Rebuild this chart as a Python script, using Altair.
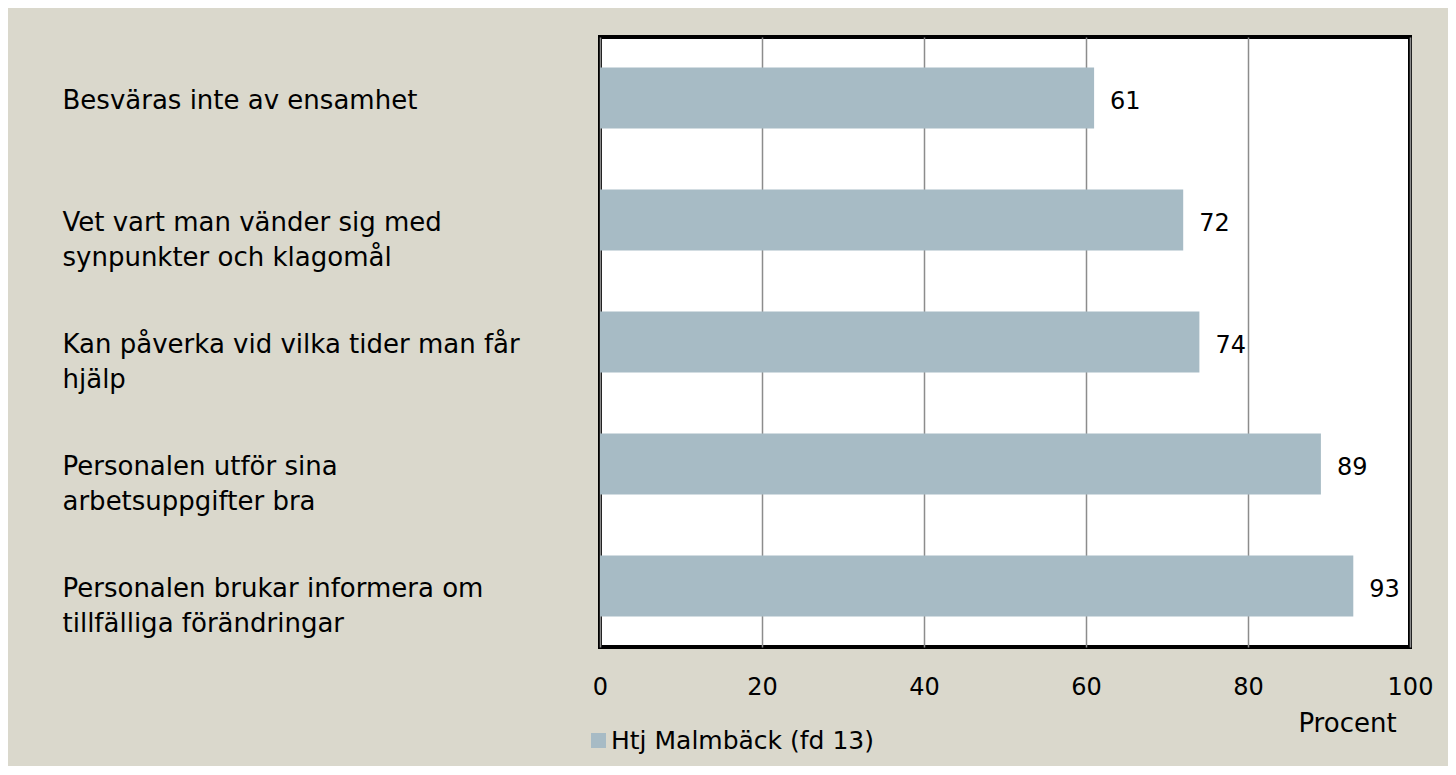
import altair as alt
import pandas as pd

categories = [
    "Besväras inte av ensamhet",
    "Vet vart man vänder sig med|synpunkter och klagomål",
    "Kan påverka vid vilka tider man får|hjälp",
    "Personalen utför sina|arbetsuppgifter bra",
    "Personalen brukar informera om|tillfälliga förändringar",
]
values = [61, 72, 74, 89, 93]
series = "Htj Malmbäck (fd 13)"
x_ticks = [0, 20, 40, 60, 80, 100]

df = pd.DataFrame({"cat": categories, "val": values, "series": [series] * len(values)})

FONT = "DejaVu Sans"
BG = "#DAD8CC"
BAR = "#A7BBC5"

y_enc = alt.Y(
    "cat:N",
    sort=categories,
    scale=alt.Scale(paddingInner=0.5, paddingOuter=0.25),
    axis=alt.Axis(
        title=None,
        labelExpr="split(datum.label, '|')",
        labelAlign="left",
        labelBaseline="alphabetic",
        labelOffset=11,
        labelPadding=538,
        labelLimit=600,
        labelFont=FONT,
        labelFontSize=26,
        labelColor="black",
        labelLineHeight=35,
        ticks=False,
        domain=False,
    ),
)

x_enc = alt.X(
    "val:Q",
    scale=alt.Scale(domain=[0, 100], nice=False),
    axis=alt.Axis(
        values=x_ticks,
        title="Procent",
        titleFont=FONT,
        titleFontSize=26,
        titleFontWeight="normal",
        titleColor="black",
        titleAnchor="start",
        titleAlign="center",
        titleBaseline="middle",
        titleX=747,
        titleY=76,
        labelFont=FONT,
        labelFontSize=24,
        labelColor="black",
        labelPadding=28,
        labelFlush=False,
        ticks=False,
        domain=False,
        grid=True,
        gridColor="#8c8c8c",
        gridWidth=1.5,
    ),
)

bars = alt.Chart(df).mark_bar(opacity=1).encode(
    x=x_enc,
    y=y_enc,
    color=alt.Color(
        "series:N",
        scale=alt.Scale(domain=[series], range=[BAR]),
        legend=alt.Legend(
            title=None,
            orient="none",
            legendX=-14,
            legendY=691,
            symbolType="square",
            symbolSize=225,
            symbolStrokeWidth=0,
            labelFont=FONT,
            labelFontSize=25,
            labelColor="black",
            labelOffset=0,
            labelLimit=500,
        ),
    ),
)

labels = alt.Chart(df).mark_text(
    align="left", baseline="middle", dx=16, dy=4, font=FONT, fontSize=24, color="black"
).encode(
    x=alt.X("val:Q"),
    y=alt.Y("cat:N", sort=categories),
    text="val:Q",
)

chart = (
    alt.layer(bars, labels)
    .properties(
        width=810,
        height=610,
        background=BG,
        padding={"left": 592, "top": 29, "right": 38, "bottom": 119},
        autosize=alt.AutoSizeParams(type="none"),
    )
    .configure_view(stroke="black", strokeWidth=4, fill="white")
)

chart.save("out.html", embed_options={"renderer": "svg", "actions": False})
